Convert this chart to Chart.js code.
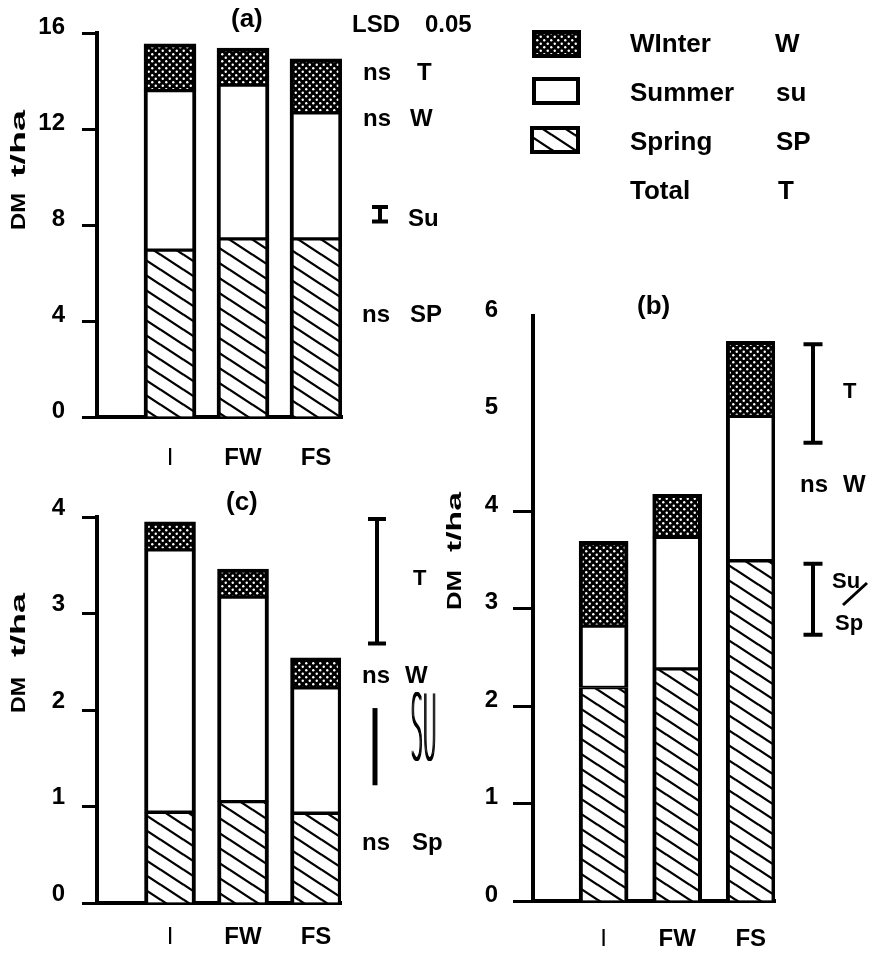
<!DOCTYPE html>
<html lang="en">
<head>
<meta charset="UTF-8">
<title>DM t/ha by season</title>
<script src="https://cdn.jsdelivr.net/npm/chart.js"></script>
<style>
    body { margin: 0; background: #fff; }
    canvas { position: absolute; left: 0; top: 0; }
</style>
</head>
<body>
<canvas id="chartA" width="880" height="955"></canvas>
<canvas id="chartB" width="880" height="955"></canvas>
<canvas id="chartC" width="880" height="955"></canvas>
<script>
// treatments
const categories = ['I', 'FW', 'FS'];

// (a) annual DM t/ha
const springA = [6.95, 7.42, 7.42];
const summerA = [6.65, 6.41, 5.25];
const winterA = [1.95, 1.54, 2.25];
const ticksA = [0, 4, 8, 12, 16];

// (b)
const springB = [2.19, 2.38, 3.49];
const summerB = [0.63, 1.35, 1.48];
const winterB = [0.87, 0.44, 0.77];
const ticksB = [0, 1, 2, 3, 4, 5, 6];

// (c)
const springC = [0.94, 1.05, 0.93];
const summerC = [2.72, 2.12, 1.30];
const winterC = [0.29, 0.29, 0.31];
const ticksC = [0, 1, 2, 3, 4];

// LSD 0.05 bars [low, high]
const lsdA_Su = [8.15, 8.75];
const lsdB_T = [4.70, 5.71];
const lsdB_SuSp = [2.73, 3.46];
const lsdC_T = [2.69, 3.98];
const lsdC_Su = [1.22, 2.02];

const FONT = "'Liberation Sans', Arial, Helvetica, sans-serif";

// fill patterns
function makeDots() {
    const c = document.createElement('canvas');
    c.width = 7; c.height = 7;
    const g = c.getContext('2d');
    g.fillStyle = '#000';
    g.fillRect(0, 0, 7, 7);
    g.fillStyle = '#fff';
    [[1.75, 1.75], [5.25, 5.25]].forEach(p => {
        g.beginPath(); g.arc(p[0], p[1], 1.2, 0, Math.PI * 2); g.fill();
    });
    return g.createPattern(c, 'repeat');
}
function makeHatch() {
    const w = 23, h = 15;
    const c = document.createElement('canvas');
    c.width = w; c.height = h;
    const g = c.getContext('2d');
    g.fillStyle = '#fff';
    g.fillRect(0, 0, w, h);
    g.strokeStyle = '#000';
    g.lineWidth = 2.3;
    g.beginPath();
    for (const dx of [-w, 0, w]) {
        for (const dy of [-h, 0, h]) {
            g.moveTo(dx, dy); g.lineTo(dx + w, dy + h);
        }
    }
    g.stroke();
    return g.createPattern(c, 'repeat');
}
const dots = makeDots();
const hatch = makeHatch();

// drawing helpers
function text(ctx, s, x, base, size, weight) {
    ctx.font = (weight || 'bold') + ' ' + size + 'px ' + FONT;
    ctx.textAlign = 'left';
    ctx.textBaseline = 'alphabetic';
    ctx.fillStyle = '#000';
    ctx.fillText(s, x, base);
}
function vtext(ctx, s, base, yStart, len, size) {
    ctx.save();
    ctx.font = 'bold ' + size + 'px ' + FONT;
    ctx.translate(base, yStart);
    ctx.rotate(-Math.PI / 2);
    const w = ctx.measureText(s).width;
    ctx.scale(len / w, 1);
    ctx.textAlign = 'left';
    ctx.textBaseline = 'alphabetic';
    ctx.fillStyle = '#000';
    ctx.fillText(s, 0, 0);
    ctx.restore();
}
function lsdBar(ctx, x, yTop, yBot, cap, lw) {
    ctx.save();
    ctx.strokeStyle = '#000';
    ctx.lineWidth = lw || 4;
    ctx.beginPath();
    ctx.moveTo(x, yTop); ctx.lineTo(x, yBot);
    if (cap) {
        ctx.moveTo(x - cap / 2, yTop); ctx.lineTo(x + cap / 2, yTop);
        ctx.moveTo(x - cap / 2, yBot); ctx.lineTo(x + cap / 2, yBot);
    }
    ctx.stroke();
    ctx.restore();
}
function swatch(ctx, x, y, w, h, fill) {
    ctx.save();
    ctx.fillStyle = fill;
    ctx.fillRect(x, y, w, h);
    ctx.strokeStyle = '#000';
    ctx.lineWidth = 4;
    ctx.strokeRect(x, y, w, h);
    ctx.restore();
}

function makeChart(id, o) {
    const seg = (label, vals, fill, bw) => ({
        label: label,
        data: vals.map((v, i) => ({ x: i + 1, y: v })),
        backgroundColor: fill,
        borderColor: '#000',
        borderWidth: bw,
        borderSkipped: false,
        barThickness: o.barW
    });
    return new Chart(document.getElementById(id), {
        type: 'bar',
        data: {
            datasets: [
                seg('Spring', o.spring, hatch, { left: 4, right: 4, top: 2, bottom: 0 }),
                seg('Summer', o.summer, '#fff', { left: 4, right: 4, top: 2, bottom: 2 }),
                seg('Winter', o.winter, dots, { left: 4, right: 4, top: 4, bottom: 2 })
            ]
        },
        options: {
            responsive: false,
            animation: false,
            layout: { padding: o.pad },
            plugins: { legend: { display: false }, tooltip: { enabled: false } },
            scales: {
                x: {
                    type: 'linear',
                    stacked: true,
                    offset: false,
                    min: o.xMin,
                    max: o.xMax,
                    afterBuildTicks: s => { s.ticks = categories.map((c, i) => ({ value: i + 1 })); },
                    afterFit: s => { s.height = o.xH; },
                    grid: { display: false },
                    border: { display: true, width: 4, color: '#000' },
                    ticks: {
                        padding: o.xPad,
                        color: '#000',
                        autoSkip: false,
                        maxRotation: 0,
                        callback: (v, i) => categories[i],
                        font: c => ({ family: FONT, size: 24, weight: c.index === 0 ? 'normal' : 'bold' })
                    }
                },
                y: {
                    stacked: true,
                    min: 0,
                    max: o.yMax,
                    afterBuildTicks: s => { s.ticks = o.yTicks.map(v => ({ value: v })); },
                    afterFit: s => { s.width = o.yW; },
                    grid: {
                        drawOnChartArea: false,
                        drawTicks: true,
                        tickLength: o.tickLen,
                        tickWidth: 3,
                        tickColor: o.tickColor || '#000'
                    },
                    border: { display: true, width: 4, color: '#000' },
                    ticks: {
                        padding: o.yPad,
                        labelOffset: o.labelOffset,
                        color: '#000',
                        font: { family: FONT, size: 24, weight: 'bold' },
                        callback: v => v
                    }
                }
            }
        },
        plugins: [{ id: 'notes' + id, afterDraw: ch => o.notes(ch) }]
    });
}

// (a)
makeChart('chartA', {
    spring: springA, summer: summerA, winter: winterA,
    yTicks: ticksA, yMax: 16, barW: 52,
    pad: { left: 0, top: 33, right: 538, bottom: 0 },
    yW: 97, xH: 538, xMin: 0, xMax: 3.356,
    tickLen: 15, yPad: 17, labelOffset: -6, xPad: 19,
    notes: ch => {
        const ctx = ch.ctx, y = ch.scales.y;
        text(ctx, '(a)', 231, 27, 26);
        text(ctx, 'LSD', 352, 32, 24);
        text(ctx, '0.05', 425, 32, 24);
        text(ctx, 'ns', 363, 80, 24); text(ctx, 'T', 417, 80, 24);
        text(ctx, 'ns', 363, 126, 24); text(ctx, 'W', 410, 126, 24);
        lsdBar(ctx, 380, y.getPixelForValue(lsdA_Su[1]), y.getPixelForValue(lsdA_Su[0]), 16);
        text(ctx, 'Su', 408, 226, 24);
        text(ctx, 'ns', 362, 322, 24); text(ctx, 'SP', 410, 322, 24);
        vtext(ctx, 'DM', 25, 230, 37, 21);
        vtext(ctx, 't/ha', 25, 177, 67, 21);

        // legend
        swatch(ctx, 534, 32, 45, 24, dots);
        swatch(ctx, 534, 79, 44, 24, '#fff');
        swatch(ctx, 532, 128, 46, 24, hatch);
        text(ctx, 'WInter', 630, 52, 26); text(ctx, 'W', 775, 52, 26);
        text(ctx, 'Summer', 630, 101, 26); text(ctx, 'su', 776, 101, 26);
        text(ctx, 'Spring', 630, 150, 26); text(ctx, 'SP', 776, 150, 26);
        text(ctx, 'Total', 630, 199, 26); text(ctx, 'T', 778, 199, 26);
    }
});

// (b)
makeChart('chartB', {
    spring: springB, summer: summerB, winter: winterB,
    yTicks: ticksB, yMax: 6, barW: 49,
    pad: { left: 470, top: 316, right: 105, bottom: 0 },
    yW: 63, xH: 54, xMin: 0.04, xMax: 3.33,
    tickLen: 20, yPad: 15, labelOffset: -6, xPad: 16,
    tickColor: c => (c.tick && c.tick.value > 4 ? 'rgba(0,0,0,0)' : '#000'),
    notes: ch => {
        const ctx = ch.ctx, y = ch.scales.y;
        text(ctx, '(b)', 637, 314, 26);
        lsdBar(ctx, 813, y.getPixelForValue(lsdB_T[1]), y.getPixelForValue(lsdB_T[0]), 19);
        text(ctx, 'T', 843, 398, 22);
        text(ctx, 'ns', 800, 492, 24); text(ctx, 'W', 843, 492, 24);
        lsdBar(ctx, 813, y.getPixelForValue(lsdB_SuSp[1]), y.getPixelForValue(lsdB_SuSp[0]), 19);
        text(ctx, 'Su', 832, 588, 22);
        text(ctx, 'Sp', 835, 630, 22);
        ctx.save();
        ctx.strokeStyle = '#000'; ctx.lineWidth = 3;
        ctx.beginPath(); ctx.moveTo(843, 605); ctx.lineTo(867, 583); ctx.stroke();
        ctx.restore();
        vtext(ctx, 'DM', 461, 610, 40, 21);
        vtext(ctx, 't/ha', 461, 552, 60, 21);
    }
});

// (c)
makeChart('chartC', {
    spring: springC, summer: summerC, winter: winterC,
    yTicks: ticksC, yMax: 4, barW: 51,
    pad: { left: 0, top: 517, right: 539, bottom: 0 },
    yW: 97, xH: 52, xMin: 0, xMax: 3.342,
    tickLen: 15, yPad: 17, labelOffset: -9, xPad: 12,
    notes: ch => {
        const ctx = ch.ctx, y = ch.scales.y;
        text(ctx, '(c)', 226, 510, 26);
        lsdBar(ctx, 377, y.getPixelForValue(lsdC_T[1]), y.getPixelForValue(lsdC_T[0]), 18);
        text(ctx, 'T', 413, 585, 22);
        text(ctx, 'ns', 362, 683, 24); text(ctx, 'W', 405, 683, 24);
        lsdBar(ctx, 375, y.getPixelForValue(lsdC_Su[1]), y.getPixelForValue(lsdC_Su[0]), 0, 5);
        // tall thin "SU"
        ctx.save();
        ctx.font = '200 93px "DejaVu Sans", ' + FONT;
        ctx.textAlign = 'left';
        ctx.textBaseline = 'alphabetic';
        ctx.fillStyle = '#000';
        const w = ctx.measureText('SU').width;
        for (const off of [0, 0.7, 1.4]) {
            ctx.save();
            ctx.translate(410 + off, 760);
            ctx.scale(26 / w, 67 / 68);
            ctx.fillText('SU', 0, 0);
            ctx.restore();
        }
        ctx.restore();
        text(ctx, 'ns', 362, 850, 24); text(ctx, 'Sp', 412, 850, 24);
        vtext(ctx, 'DM', 25, 713, 36, 21);
        vtext(ctx, 't/ha', 25, 657, 64, 21);
    }
});
</script>
</body>
</html>
